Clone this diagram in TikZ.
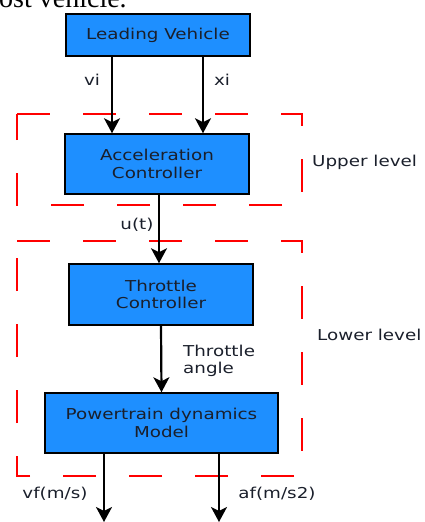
\documentclass[tikz,border=0pt]{standalone}
\usepackage{fontspec}
\setmainfont[FakeStretch=1.22]{DejaVu Sans}
\newfontfamily\serifx{Liberation Serif}
\usetikzlibrary{arrows.meta}
\definecolor{boxblue}{HTML}{1E8FFF}
\definecolor{txt}{HTML}{1A1F2B}
\begin{document}
\begin{tikzpicture}[x=1pt,y=-1pt,
  blk/.style={draw=black,line width=1.5pt,fill=boxblue,text=txt,font=\fontsize{15}{17.5}\selectfont,align=center,inner sep=0pt},
  lab/.style={text=txt,font=\fontsize{15}{17.5}\selectfont,inner sep=0pt},
  arr/.style={line width=2.2pt,-{Stealth[length=15pt,width=16pt,inset=4pt]}},
  zone/.style={red,line width=1.8pt,dash pattern=on 33pt off 33pt}]
\useasboundingbox (0,0) rectangle (425,522);
\begin{scope}
\clip (0,0) rectangle (425,522);
\node[anchor=base west,inner sep=0pt,font=\serifx\fontsize{28}{30}\selectfont] (top) at (-1,8) {ost vehicle.};
\end{scope}
% blocks
\node[blk,minimum width=184pt,minimum height=42pt] (lead) at (158,35) {Leading Vehicle};
\node[blk,minimum width=184pt,minimum height=60pt] (acc) at (157,164) {Acceleration\\Controller};
\node[blk,minimum width=184pt,minimum height=61pt] (thr) at (161,294.5) {Throttle\\Controller};
\node[blk,minimum width=233pt,minimum height=60pt] (pow) at (161.5,423) {Powertrain dynamics\\Model};
% zones
\coordinate (u1) at (17,114); \coordinate (u2) at (302,205);
\draw[zone] (u1) -- (u1 -| u2) -- (u2) -- (u2 -| u1) -- cycle;
\coordinate (l1) at (17,241); \coordinate (l2) at (302,476);
\draw[zone] (l1) -- (l1 -| l2) -- (l2) -- (l2 -| l1) -- cycle;
\node[lab,anchor=west] (up) at (312,162) {Upper level};
\node[lab,anchor=west] (low) at (317,335) {Lower level};
% connectors
\coordinate (vi0) at (112,56); \coordinate (xi0) at (203,56);
\draw[arr] (vi0) -- (vi0 |- acc.north);
\draw[arr] (xi0) -- (xi0 |- acc.north);
\node[lab] (vil) at (92,80) {vi};
\node[lab] (xil) at (222,80) {xi};
\coordinate (ut) at (159,194);
\draw[arr] (ut) -- (ut |- thr.north);
\node[lab] (utl) at (137,225) {u(t)};
\draw[arr] (thr.south) -- (pow.north);
\node[lab,anchor=west,align=left] (tal) at (183,361) {Throttle\\angle};
\coordinate (vf0) at (104,453); \coordinate (vf1) at (104,522);
\coordinate (af0) at (219,453); \coordinate (af1) at (219,522);
\draw[arr] (vf0) -- (vf1);
\draw[arr] (af0) -- (af1);
\node[lab] (vfl) at (55,494) {vf(m/s)};
\node[lab] (afl) at (277,494) {af(m/s2)};
\end{tikzpicture}
\end{document}
